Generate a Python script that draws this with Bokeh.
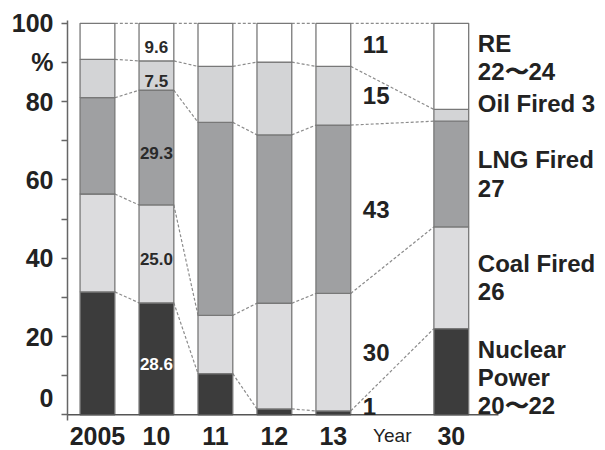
from bokeh.plotting import figure
from bokeh.models import ColumnDataSource, FixedTicker, Range1d
from bokeh.core.properties import value
from bokeh.embed import file_html
from bokeh.resources import INLINE

# Power generation mix (%), bottom to top: nuclear, coal, LNG, oil, renewables
years = ["2005", "10", "11", "12", "13", "30"]
slots = [0, 1, 2, 3, 4, 6]
nuclear = [31.4, 28.6, 10.5, 1.5, 1, 22]
coal = [25.0, 25.0, 14.9, 27.0, 30, 26]
lng = [24.6, 29.3, 49.3, 43.0, 43, 27]
oil = [9.8, 7.5, 14.3, 18.6, 15, 3]
renew = [9.2, 9.6, 11.0, 9.9, 11, 22]

series = ["nuclear", "coal", "lng", "oil", "renew"]
colors = ["#3c3c3c", "#dcdcde", "#9fa0a2", "#d3d4d6", "#ffffff"]
target_labels = ["Nuclear\nPower\n20\u301c22", "Coal Fired\n26", "LNG Fired\n27",
                 "Oil Fired 3", "RE\n22\u301c24"]
grid_ticks = list(range(0, 101, 10))
# labelled positions on the value axis; the zero label is lifted off the baseline
label_ticks = [4.4, 20, 40, 60, 80, 90, 100]
label_texts = ["0", "20", "40", "60", "80", "%", "100"]

data = dict(slot=slots, nuclear=nuclear, coal=coal, lng=lng, oil=oil, renew=renew)
src = ColumnDataSource(data)
values = [nuclear, coal, lng, oil, renew]

# cumulative tops of each layer, per bar
tops = []
running = [0.0] * len(slots)
for vals in values:
    running = [r + v for r, v in zip(running, vals)]
    tops.append(list(running))
bottoms = [[0.0] * len(slots)] + tops[:-1]

BAR_W = 0.59
FONT = value("Liberation Sans")
CAT_Y = -5.3

p = figure(width=605, height=450, output_backend="svg", toolbar_location=None,
           x_range=Range1d(-0.508, 8.615), y_range=Range1d(-9.12, 100.72),
           x_axis_location=None,
           min_border_left=67, min_border_right=0, min_border_top=20,
           min_border_bottom=0)
p.outline_line_color = None
p.grid.visible = False
p.background_fill_color = "white"

# dashed connectors between matching layer tops of neighbouring bars
x0s, y0s, x1s, y1s = [], [], [], []
for level in tops:
    for i in range(len(slots) - 1):
        x0s.append(slots[i] + BAR_W / 2)
        x1s.append(slots[i + 1] - BAR_W / 2)
        y0s.append(level[i])
        y1s.append(level[i + 1])
p.segment(x0=x0s, y0=y0s, x1=x1s, y1=y1s, line_color="#8c8c8c",
          line_width=1.2, line_dash="3 2")

p.vbar_stack(series, x="slot", width=BAR_W, source=src, color=colors,
             line_color="#787878", line_width=1.3)

# baseline
p.segment(x0=[-0.508], y0=[0], x1=[6.8], y1=[0], line_color="#555555", line_width=1.6)

# category labels under the baseline
p.text(x=slots, y=[CAT_Y] * len(slots), text=years, text_color="#222222",
       text_align="center", text_baseline="middle",
       text_font=FONT, text_font_style="bold", text_font_size="25px")
p.text(x=[5], y=[CAT_Y], text=["Year"], text_color="#222222",
       text_align="center", text_baseline="middle",
       text_font=FONT, text_font_size="19px")

# values written inside the 2010 bar
i10 = years.index("10")
mids10 = [(b[i10] + t[i10]) / 2 for b, t in zip(bottoms, tops)]
txt10 = [f"{v[i10]:.1f}" for v in values]
p.text(x=[slots[i10]] * 5, y=mids10, text=txt10,
       text_color=["white", "#2a2a2a", "#2a2a2a", "#2a2a2a", "#2a2a2a"],
       text_align="center", text_baseline="middle", y_offset=5,
       text_font=FONT, text_font_style="bold", text_font_size="17px")

# values beside the 2013 bar
i13 = years.index("13")
mids13 = [max((b[i13] + t[i13]) / 2, 2.2) for b, t in zip(bottoms, tops)]
txt13 = [f"{v[i13]:g}" for v in values]
p.text(x=[slots[i13] + 0.5] * 5, y=mids13, text=txt13, text_color="#222222",
       text_align="left", text_baseline="middle",
       text_font=FONT, text_font_style="bold", text_font_size="24px")

# 2030 target labels
i30 = years.index("30")
mids30 = [(b[i30] + t[i30]) / 2 for b, t in zip(bottoms, tops)]
nudge = [-1.5, 0, 0, 3.0, 2.3]
p.text(x=[slots[i30] + 0.45] * 5, y=[m + n for m, n in zip(mids30, nudge)],
       text=target_labels, text_color="#222222", text_align="left",
       text_baseline="middle", text_line_height=1.05,
       text_font=FONT, text_font_style="bold", text_font_size="24px")

# value axis: tick marks every 10 %, labels on their own positions
yax = p.yaxis[0]
yax.ticker = FixedTicker(ticks=label_ticks, minor_ticks=grid_ticks)
yax.major_label_overrides = {t: s for t, s in zip(label_ticks, label_texts)}
yax.bounds = (-1.5, 100.72)
yax.axis_line_color = "#666666"
yax.axis_line_width = 1.5
yax.major_tick_line_color = None
yax.major_tick_out = 6
yax.major_tick_in = 0
yax.minor_tick_line_color = "#666666"
yax.minor_tick_line_width = 1.3
yax.minor_tick_out = 6
yax.minor_tick_in = 0
yax.major_label_standoff = 8
yax.major_label_text_font = "Liberation Sans"
yax.major_label_text_font_style = "bold"
yax.major_label_text_font_size = "25px"
yax.major_label_text_color = "#222222"

with open("out.html", "w", encoding="utf-8") as f:
    f.write(file_html(p, INLINE))
